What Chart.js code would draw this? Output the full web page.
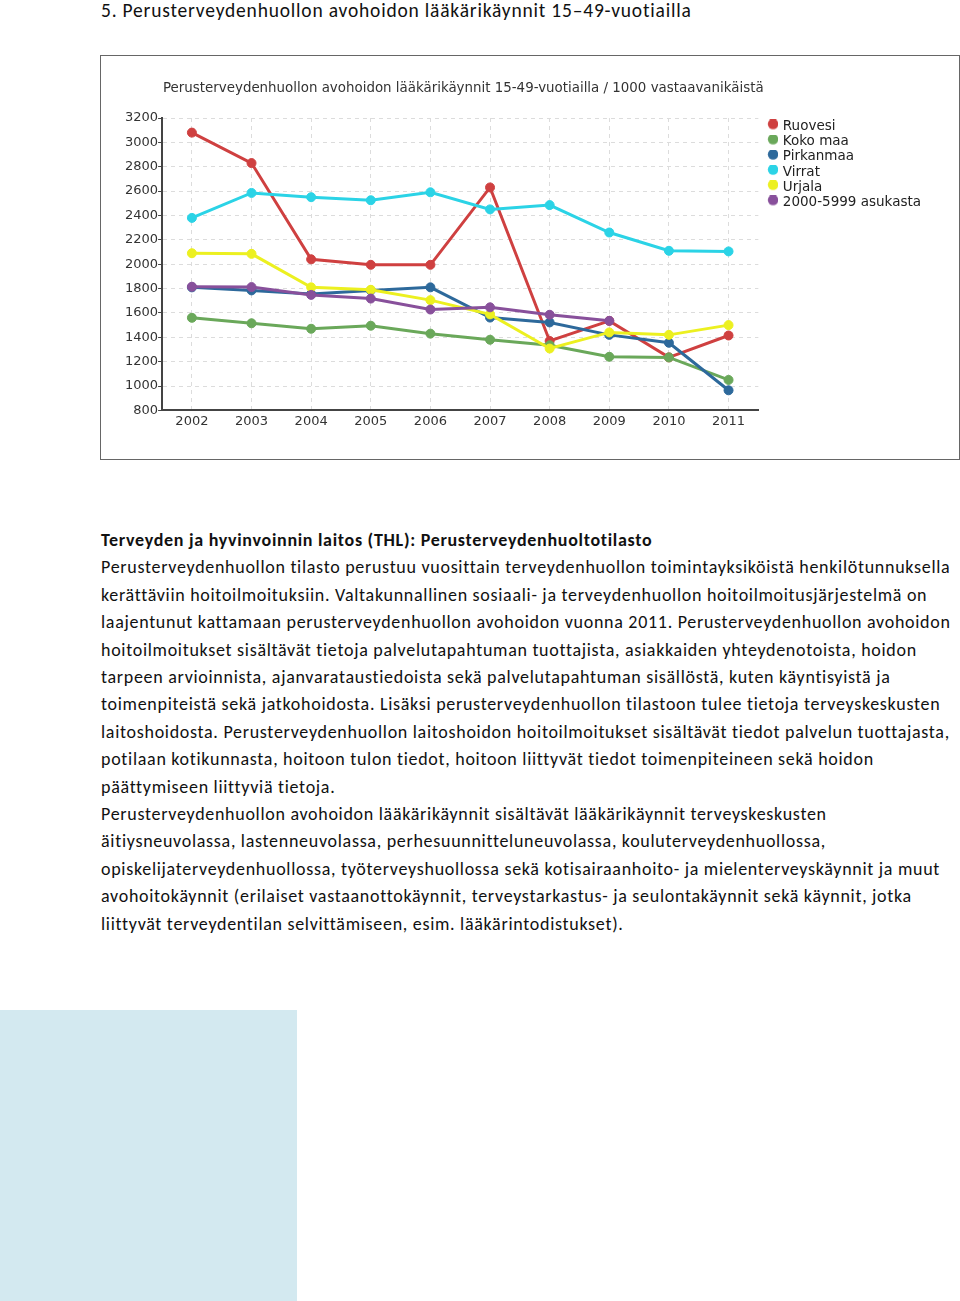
<!DOCTYPE html>
<html>
<head>
<meta charset="utf-8">
<script src="https://cdn.jsdelivr.net/npm/chart.js@4/dist/chart.umd.min.js"></script>
<style>
  html, body { margin: 0; padding: 0; background: #fff; }
  body { width: 960px; height: 1301px; position: relative; overflow: hidden; font-family: "Carlito", "Calibri", "Lato", sans-serif; color: #111; }
  #heading { position: absolute; left: 101px; top: -1px; font-size: 19.5px; letter-spacing: 0.8px; line-height: 22px; white-space: nowrap; }
  #box { position: absolute; left: 100px; top: 55px; width: 858px; height: 403px; border: 1px solid #666; background: #fff; }
  #chartTitle { position: absolute; left: 163px; top: 80px; font-family: "DejaVu Sans", Verdana, sans-serif; font-size: 13.4px; line-height: 16px; color: #333; white-space: nowrap; }
  #wrap { position: absolute; left: 101px; top: 56px; width: 858px; height: 403px; }
  #text { position: absolute; left: 101px; top: 527px; font-size: 18px; letter-spacing: 0.7px; line-height: 27.4px; white-space: nowrap; }
  #text b { font-weight: bold; }
  #bluebox { position: absolute; left: 0; top: 1010px; width: 297px; height: 291px; background: #d3e9f0; }
</style>
</head>
<body>
<div id="heading">5. Perusterveydenhuollon avohoidon lääkärikäynnit 15–49-vuotiailla</div>
<div id="box"></div>
<div id="wrap"><canvas id="c" width="858" height="403"></canvas></div>
<div id="chartTitle">Perusterveydenhuollon avohoidon lääkärikäynnit 15-49-vuotiailla / 1000 vastaavanikäistä</div>
<div id="text">
<b>Terveyden ja hyvinvoinnin laitos (THL): Perusterveydenhuoltotilasto</b><br>
Perusterveydenhuollon tilasto perustuu vuosittain terveydenhuollon toimintayksiköistä henkilötunnuksella<br>
kerättäviin hoitoilmoituksiin. Valtakunnallinen sosiaali- ja terveydenhuollon hoitoilmoitusjärjestelmä on<br>
laajentunut kattamaan perusterveydenhuollon avohoidon vuonna 2011. Perusterveydenhuollon avohoidon<br>
hoitoilmoitukset sisältävät tietoja palvelutapahtuman tuottajista, asiakkaiden yhteydenotoista, hoidon<br>
tarpeen arvioinnista, ajanvarataustiedoista sekä palvelutapahtuman sisällöstä, kuten käyntisyistä ja<br>
toimenpiteistä sekä jatkohoidosta. Lisäksi perusterveydenhuollon tilastoon tulee tietoja terveyskeskusten<br>
laitoshoidosta. Perusterveydenhuollon laitoshoidon hoitoilmoitukset sisältävät tiedot palvelun tuottajasta,<br>
potilaan kotikunnasta, hoitoon tulon tiedot, hoitoon liittyvät tiedot toimenpiteineen sekä hoidon<br>
päättymiseen liittyviä tietoja.<br>
Perusterveydenhuollon avohoidon lääkärikäynnit sisältävät lääkärikäynnit terveyskeskusten<br>
äitiysneuvolassa, lastenneuvolassa, perhesuunnitteluneuvolassa, kouluterveydenhuollossa,<br>
opiskelijaterveydenhuollossa, työterveyshuollossa sekä kotisairaanhoito- ja mielenterveyskäynnit ja muut<br>
avohoitokäynnit (erilaiset vastaanottokäynnit, terveystarkastus- ja seulontakäynnit sekä käynnit, jotka<br>
liittyvät terveydentilan selvittämiseen, esim. lääkärintodistukset).
</div>
<div id="bluebox"></div>
<script>
const years = ['2002', '2003', '2004', '2005', '2006', '2007', '2008', '2009', '2010', '2011'];
const seriesNames = ['Ruovesi', 'Koko maa', 'Pirkanmaa', 'Virrat', 'Urjala', '2000-5999 asukasta'];
const ruovesi   = [3080, 2830, 2040, 1995, 1995, 2630, 1370, 1535, 1235, 1415];
const kokoMaa   = [1560, 1515, 1470, 1495, 1430, 1380, 1335, 1240, 1235, 1050];
const pirkanmaa = [1810, 1785, 1755, 1785, 1810, 1562, 1522, 1420, 1355, 965];
const virrat    = [2380, 2585, 2550, 2525, 2590, 2450, 2485, 2260, 2110, 2105];
const urjala    = [2090, 2085, 1810, 1790, 1705, 1588, 1308, 1440, 1420, 1500];
const kunnat    = [1815, 1812, 1748, 1718, 1628, 1646, 1585, 1535, null, null];
const seriesColors = ['#cf4040', '#6aa85a', '#2d699b', '#2bd3e6', '#ecf020', '#88509b'];
const yMin = 800, yMax = 3200, yStep = 200;

const allSeries = [ruovesi, kokoMaa, pirkanmaa, virrat, urjala, kunnat];

function legendDot(color) {
  const cv = document.createElement('canvas');
  cv.width = 20; cv.height = 14;
  const g = cv.getContext('2d');
  g.fillStyle = color;
  g.beginPath();
  g.arc(15, 4.5, 5.2, 0, Math.PI * 2);
  g.fill();
  return cv;
}

const datasets = allSeries.map((vals, i) => ({
  label: seriesNames[i],
  data: vals,
  borderColor: seriesColors[i],
  backgroundColor: seriesColors[i],
  pointBackgroundColor: seriesColors[i],
  pointBorderColor: seriesColors[i],
  borderWidth: 3,
  pointRadius: 4.5,
  pointBorderWidth: 1,
  tension: 0,
  spanGaps: false,
  order: allSeries.length - i
}));

const dots = seriesColors.map(legendDot);
const axisFont = { family: '"DejaVu Sans", Verdana, sans-serif', size: 13 };

new Chart(document.getElementById('c'), {
  type: 'line',
  data: { labels: years, datasets },
  options: {
    responsive: false,
    animation: false,
    events: [],
    layout: { padding: { left: 24, top: 62, right: 28, bottom: 27 } },
    plugins: {
      title: { display: false },
      tooltip: { enabled: false },
      legend: {
        display: true,
        position: 'right',
        align: 'start',
        labels: {
          usePointStyle: true,
          pointStyleWidth: 16,
          boxHeight: 7,
          padding: 1.7,
          color: '#222',
          font: { family: '"DejaVu Sans", Verdana, sans-serif', size: 13.5 },
          sort: (a, b) => a.datasetIndex - b.datasetIndex,
          generateLabels: (chart) => {
            const items = Chart.defaults.plugins.legend.labels.generateLabels(chart);
            items.forEach(it => { it.pointStyle = dots[it.datasetIndex]; });
            return items;
          }
        }
      }
    },
    scales: {
      x: {
        type: 'category',
        offset: true,
        grid: { display: true, color: '#dcdcdc', lineWidth: 1, offset: false, drawTicks: false },
        border: { display: true, color: '#444', width: 2, dash: [4, 4] },
        ticks: { color: '#333', padding: 3, font: axisFont }
      },
      y: {
        min: yMin,
        max: yMax,
        grid: { color: '#dcdcdc', lineWidth: 1, tickLength: 4, tickColor: '#444', tickWidth: 1, tickBorderDash: [] },
        border: { display: true, color: '#444', width: 2, dash: [4, 4] },
        ticks: { stepSize: yStep, color: '#333', padding: 0, font: axisFont, callback: (v) => String(v) }
      }
    }
  }
});
</script>
</body>
</html>
